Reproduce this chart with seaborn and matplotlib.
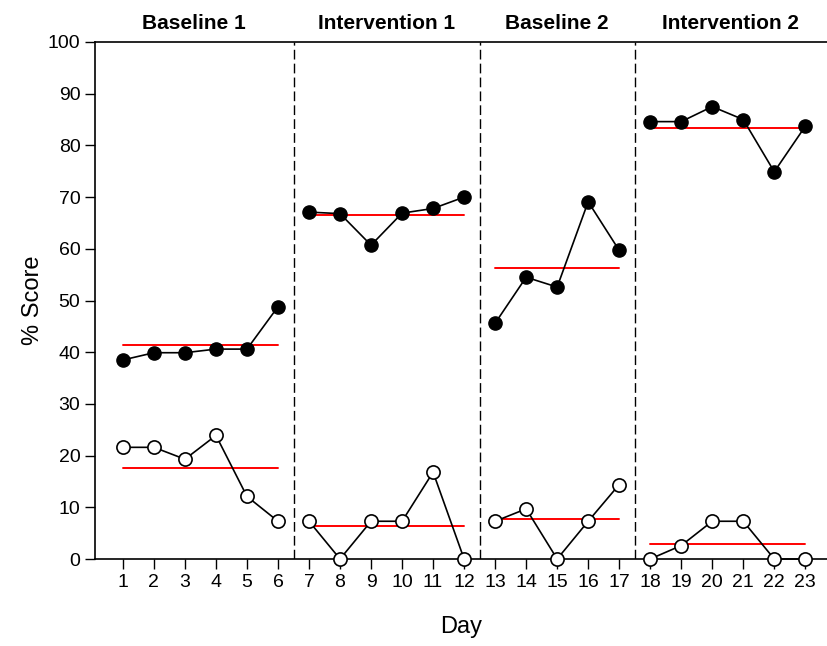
import numpy as np
import pandas as pd
import matplotlib
matplotlib.use("Agg")
import matplotlib.pyplot as plt
import matplotlib.transforms as mtransforms
import seaborn as sns

# ---- data ----
phases = ["Baseline 1", "Intervention 1", "Baseline 2", "Intervention 2"]
phase_days = [[1, 2, 3, 4, 5, 6],
              [7, 8, 9, 10, 11, 12],
              [13, 14, 15, 16, 17],
              [18, 19, 20, 21, 22, 23]]
filled_scores = [[38.5, 39.9, 39.9, 40.6, 40.6, 48.8],
                 [67.1, 66.8, 60.7, 66.9, 67.8, 70.0],
                 [45.6, 54.5, 52.6, 69.1, 59.7],
                 [84.6, 84.6, 87.5, 85.0, 74.9, 83.7]]
open_scores = [[21.6, 21.6, 19.3, 23.9, 12.1, 7.3],
               [7.3, 0.0, 7.3, 7.3, 16.8, 0.0],
               [7.3, 9.7, 0.0, 7.3, 14.4],
               [0.0, 2.6, 7.3, 7.3, 0.0, 0.0]]
phase_breaks = [6.5, 12.5, 17.5]
x_ticks = list(range(1, 24))
y_ticks = list(range(0, 101, 10))

rows = []
for ph, days, fs, os_ in zip(phases, phase_days, filled_scores, open_scores):
    for d, f, o in zip(days, fs, os_):
        rows.append({"phase": ph, "day": d, "score": f, "series": "filled"})
        rows.append({"phase": ph, "day": d, "score": o, "series": "open"})
df = pd.DataFrame(rows)

sns.set_style("ticks")
plt.rcParams["font.family"] = ["Liberation Sans", "DejaVu Sans"]
plt.rcParams["text.color"] = "black"
plt.rcParams["axes.labelcolor"] = "black"

fig = plt.figure(figsize=(8.27, 6.46), dpi=100)
ax = fig.add_axes([95 / 827, 87 / 646, 1 - 95 / 827, 517 / 646])

XMIN, XMAX = 0.1, 23.7

# mean lines (red)
for ph in phases:
    for s in ["filled", "open"]:
        sub = df[(df.phase == ph) & (df.series == s)]
        m = sub.score.mean()
        mdf = pd.DataFrame({"day": [sub.day.min(), sub.day.max()], "score": [m, m]})
        sns.lineplot(data=mdf, x="day", y="score", color="#ff0000", lw=1.4,
                     ax=ax, zorder=2)

# data series
for ph in phases:
    sub = df[(df.phase == ph) & (df.series == "filled")]
    sns.lineplot(data=sub, x="day", y="score", color="black", lw=1.2,
                 marker="o", markersize=9.5, markerfacecolor="black",
                 markeredgecolor="black", markeredgewidth=1.0, ax=ax,
                 zorder=4, clip_on=False)
    sub = df[(df.phase == ph) & (df.series == "open")]
    sns.lineplot(data=sub, x="day", y="score", color="black", lw=1.2,
                 marker="o", markersize=9.5, markerfacecolor="white",
                 markeredgecolor="black", markeredgewidth=1.2, ax=ax,
                 zorder=4, clip_on=False)

# phase change lines
for b in phase_breaks:
    ax.axvline(b, color="black", lw=1.0, linestyle=(0, (7, 3)), zorder=1)

# phase titles
bounds = [XMIN] + phase_breaks + [XMAX]
trans = mtransforms.blended_transform_factory(ax.transData, ax.transAxes)
for i, ph in enumerate(phases):
    ax.text((bounds[i] + bounds[i + 1]) / 2, 1.036, ph, transform=trans,
            ha="center", va="center", fontsize=15, fontweight="bold",
            color="black")

ax.set_xlim(XMIN, XMAX)
ax.set_ylim(0, 100)
ax.set_xticks(x_ticks)
ax.set_yticks(y_ticks)
ax.tick_params(axis="both", direction="out", length=7, width=1.0,
               labelsize=14, colors="black")
ax.tick_params(axis="x", pad=4)
ax.set_xlabel("Day", fontsize=17, labelpad=18, color="black")
ax.set_ylabel("% Score", fontsize=17, labelpad=3, color="black")
ax.spines["right"].set_visible(False)
for sp in ["left", "bottom", "top"]:
    ax.spines[sp].set_linewidth(1.2)
    ax.spines[sp].set_color("black")
ax.grid(False)

fig.savefig("out.png", dpi=100)
